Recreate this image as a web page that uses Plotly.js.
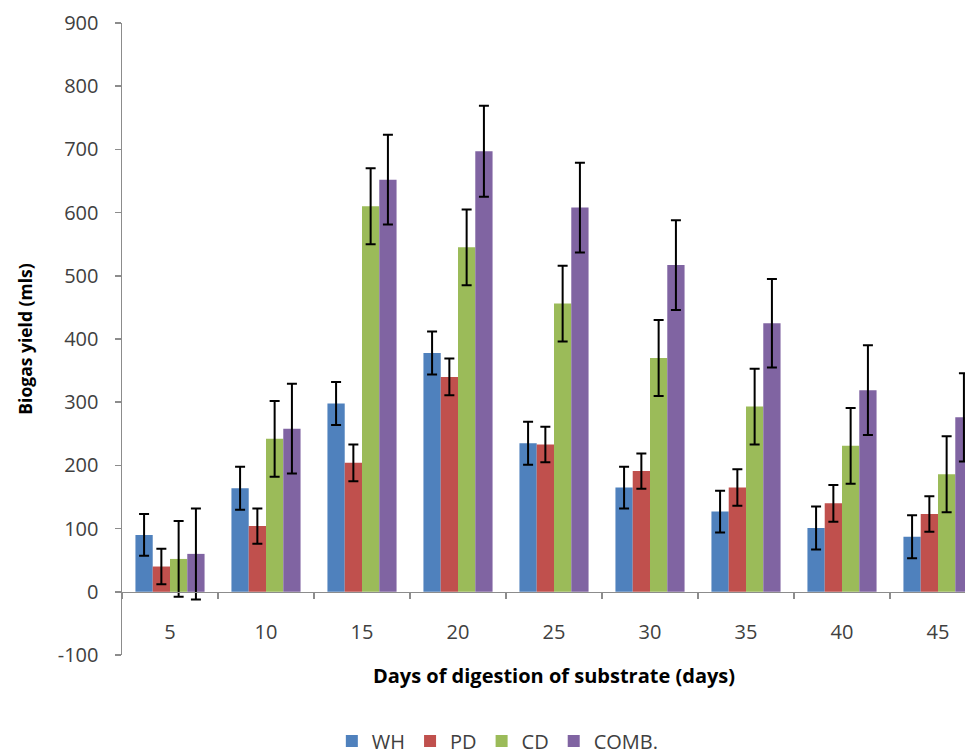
<!DOCTYPE html>
<html>
<head>
<meta charset="utf-8">
<script src="https://cdn.plot.ly/plotly-3.0.1.min.js"></script>
<style>
html, body { margin: 0; padding: 0; overflow: hidden; background: #fff; }
#chart { width: 1000px; height: 756px; }
</style>
</head>
<body>
<div id="chart"></div>
<script>
// Data
const days = ['5', '10', '15', '20', '25', '30', '35', '40', '45'];

const WH      = [90, 164, 298, 378, 235, 165, 127, 101, 87];
const WH_err  = [33, 34, 34, 34, 34, 33, 33, 34, 34];

const PD      = [40, 104, 204, 340, 233, 191, 165, 140, 123];
const PD_err  = [28, 28, 29, 29, 28, 28, 29, 29, 28];

const CD      = [52, 242, 610, 545, 456, 370, 293, 231, 186];
const CD_err  = [60, 60, 60, 60, 60, 60, 60, 60, 60];

const COMB    = [60, 258, 652, 697, 608, 517, 425, 319, 276];
const COMB_err= [72, 71, 71, 72, 71, 71, 70, 71, 70];

const yTickValues = [-100, 0, 100, 200, 300, 400, 500, 600, 700, 800, 900];
const yTickLabels = ['-100', '0', '100', '200', '300', '400', '500', '600', '700', '800', '900'];

const seriesNames = ['WH', 'PD', 'CD', 'COMB.'];
const seriesColors = ['#4F81BD', '#C0504D', '#9BBB59', '#8064A2'];
const seriesValues = [WH, PD, CD, COMB];
const seriesErrors = [WH_err, PD_err, CD_err, COMB_err];

const traces = seriesNames.map((name, i) => ({
  type: 'bar',
  name: name,
  x: days,
  y: seriesValues[i],
  marker: { color: seriesColors[i], line: { width: 0 } },
  error_y: {
    type: 'data',
    array: seriesErrors[i],
    visible: true,
    color: '#000000',
    thickness: 2,
    width: 5
  }
}));

const axisGray = '#8c8c8c';
const textGray = '#404040';

const layout = {
  width: 1000,
  height: 756,
  margin: { l: 122, r: 14, t: 23, b: 101, autoexpand: false },
  paper_bgcolor: '#ffffff',
  plot_bgcolor: '#ffffff',
  barmode: 'group',
  bargap: 0.28,
  bargroupgap: 0,
  showlegend: true,
  legend: {
    orientation: 'h',
    x: 0.435,
    xanchor: 'center',
    yref: 'container',
    y: 0.02,
    yanchor: 'middle',
    font: { family: 'Open Sans, sans-serif', size: 20, color: textGray },
    itemwidth: 30,
    traceorder: 'normal'
  },
  xaxis: {
    type: 'category',
    anchor: 'free',
    position: 0.1,
    range: [-0.5, 8.5],
    automargin: false,
    showline: true,
    linecolor: axisGray,
    linewidth: 1.5,
    ticks: 'outside',
    tickson: 'boundaries',
    ticklen: 6,
    tickcolor: axisGray,
    tickwidth: 1.5,
    showgrid: false,
    zeroline: false,
    ticklabelstandoff: 22,
    tickfont: { family: 'Open Sans, sans-serif', size: 20, color: textGray },
    title: {
      text: 'Days of digestion of substrate (days)',
      font: { family: 'Open Sans, sans-serif', size: 20, color: '#000000', weight: 'bold' },
      standoff: 24
    }
  },
  yaxis: {
    range: [-100, 900],
    tickmode: 'array',
    tickvals: yTickValues,
    ticktext: yTickLabels,
    automargin: false,
    showline: true,
    linecolor: axisGray,
    linewidth: 1.5,
    ticks: 'outside',
    ticklen: 6,
    tickcolor: axisGray,
    tickwidth: 1.5,
    showgrid: false,
    zeroline: false,
    ticklabelstandoff: 12,
    tickfont: { family: 'Open Sans, sans-serif', size: 20, color: textGray },
    title: {
      text: 'Biogas yield (mls)',
      font: { family: 'Open Sans, sans-serif', size: 17.5, color: '#000000', weight: 'bold' },
      standoff: 20
    }
  }
};

Plotly.newPlot('chart', traces, layout, { displayModeBar: false, staticPlot: true });
</script>
</body>
</html>
